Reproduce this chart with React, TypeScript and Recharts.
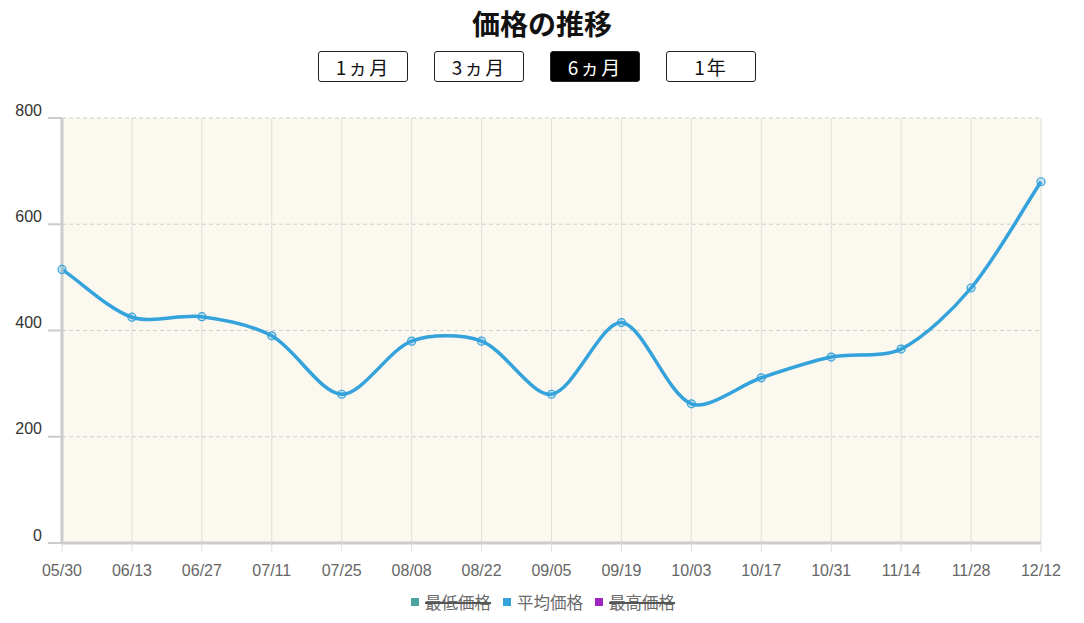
import React from 'react';
import { LineChart, Line, XAxis, YAxis, CartesianGrid, Legend } from 'recharts';

const dates = ['05/30', '06/13', '06/27', '07/11', '07/25', '08/08', '08/22', '09/05', '09/19', '10/03', '10/17', '10/31', '11/14', '11/28', '12/12'];
const avgPrices = [515, 425, 426, 390, 280, 380, 380, 280, 415, 262, 311, 350, 365, 480, 680];
const yTicks = [0, 200, 400, 600, 800];
const ranges = ['1ヵ月', '3ヵ月', '6ヵ月', '1年'];
const activeRange = '6ヵ月';
const seriesNames = ['最低価格', '平均価格', '最高価格'];
const seriesColors = ['#4aa39f', '#34a3db', '#9b27c0'];
const seriesHidden = [true, false, true];

const data = dates.map((date, i) => ({ date, avg: avgPrices[i] }));

const LINE_COLOR = '#34a3db';
const FONT = '"Liberation Sans", Arial, sans-serif';
const JP_FONT = '"Noto Sans CJK JP", sans-serif';

// chart.js style bezier spline (tension based)
const splineCurve = (tension: number) => (context: any) => {
  let pts: number[][] = [];
  return {
    areaStart() {},
    areaEnd() {},
    lineStart() {
      pts = [];
    },
    point(x: number, y: number) {
      pts.push([+x, +y]);
    },
    lineEnd() {
      const n = pts.length;
      if (!n) return;
      context.moveTo(pts[0][0], pts[0][1]);
      if (n === 1) return;
      const prevCp: number[][] = [];
      const nextCp: number[][] = [];
      for (let i = 0; i < n; i++) {
        const cur = pts[i];
        const prev = pts[i - 1] || cur;
        const next = pts[i + 1] || cur;
        const d01 = Math.hypot(cur[0] - prev[0], cur[1] - prev[1]);
        const d12 = Math.hypot(next[0] - cur[0], next[1] - cur[1]);
        let s01 = d01 / (d01 + d12);
        let s12 = d12 / (d01 + d12);
        if (isNaN(s01)) s01 = 0;
        if (isNaN(s12)) s12 = 0;
        const fa = tension * s01;
        const fb = tension * s12;
        prevCp.push([cur[0] - fa * (next[0] - prev[0]), cur[1] - fa * (next[1] - prev[1])]);
        nextCp.push([cur[0] + fb * (next[0] - prev[0]), cur[1] + fb * (next[1] - prev[1])]);
      }
      for (let i = 1; i < n; i++) {
        context.bezierCurveTo(nextCp[i - 1][0], nextCp[i - 1][1], prevCp[i][0], prevCp[i][1], pts[i][0], pts[i][1]);
      }
    },
  };
};

const YTick = (props: any) => {
  const { x, y, payload } = props;
  return (
    <text x={x - 4} y={y - 8} textAnchor="end" dominantBaseline="central" fill="#333" fontSize={16} fontFamily={FONT}>
      {payload.value}
    </text>
  );
};

const XTick = (props: any) => {
  const { x, y, payload } = props;
  return (
    <text x={x} y={y + 16} textAnchor="middle" dominantBaseline="central" fill="#666" fontSize={16} fontFamily={FONT}>
      {payload.value}
    </text>
  );
};

const LegendContent = () => (
  <div style={{ height: 50, display: 'flex', justifyContent: 'center', alignItems: 'flex-start', paddingTop: 19, paddingLeft: 2, boxSizing: 'border-box', fontFamily: JP_FONT, fontSize: 16.5, color: '#6a6a6a' }}>
    {seriesNames.map((name, i) => (
      <span key={name} style={{ display: 'flex', alignItems: 'center', margin: '0 6px' }}>
        <span style={{ width: 8, height: 8, background: seriesColors[i], marginRight: 6, display: 'inline-block' }} />
        <span style={{ position: 'relative', lineHeight: '20px' }}>
          {name}
          {seriesHidden[i] && (
            <span style={{ position: 'absolute', left: 0, right: 0, top: 10, height: 2, background: '#555' }} />
          )}
        </span>
      </span>
    ))}
  </div>
);

export default function App() {
  return (
    <div style={{ position: 'absolute', left: 0, top: 0, width: 1084, height: 623, background: '#fff' }}>
      <div style={{ position: 'absolute', top: 3, left: 0, width: 1084, textAlign: 'center', fontFamily: JP_FONT, fontWeight: 700, fontSize: 28, lineHeight: '40px', color: '#111' }}>
        価格の推移
      </div>
      <div style={{ position: 'absolute', top: 51, left: 318, display: 'flex', gap: 26 }}>
        {ranges.map((r) => {
          const active = r === activeRange;
          return (
            <div
              key={r}
              style={{
                width: 90,
                height: 31,
                boxSizing: 'border-box',
                border: '1px solid #222',
                borderRadius: 3,
                background: active ? '#000' : '#fff',
                color: active ? '#fff' : '#111',
                fontFamily: JP_FONT,
                fontSize: 19,
                letterSpacing: 2,
                display: 'flex',
                alignItems: 'center',
                justifyContent: 'center',
              }}
            >
              {r}
            </div>
          );
        })}
      </div>
      <div style={{ position: 'absolute', left: 0, top: 0 }}>
        <LineChart width={1084} height={623} data={data} margin={{ top: 118, right: 43, left: 0, bottom: 0 }}>
          <CartesianGrid horizontal={false} vertical stroke="#e2dfd8" fill="#fbf8f0" />
          <CartesianGrid vertical={false} horizontal stroke="#cfcfcf" strokeDasharray="4 3" />
          <XAxis
            dataKey="date"
            height={30}
            interval={0}
            tick={<XTick />}
            tickSize={9}
            tickLine={{ stroke: '#e2dfd8', strokeWidth: 1 }}
            axisLine={{ stroke: '#cccccc', strokeWidth: 3 }}
          />
          <YAxis
            width={62}
            domain={[0, 800]}
            ticks={yTicks}
            tick={<YTick />}
            tickSize={14}
            tickLine={{ stroke: '#cccccc', strokeWidth: 2 }}
            axisLine={{ stroke: '#cccccc', strokeWidth: 3 }}
          />
          <Legend verticalAlign="bottom" wrapperStyle={{ left: 0, width: 1084 }} content={<LegendContent />} />
          <Line
            dataKey="avg"
            name="平均価格"
            type={splineCurve(0.3) as any}
            stroke={LINE_COLOR}
            strokeWidth={3.5}
            dot={{ r: 4, stroke: LINE_COLOR, strokeWidth: 1.2, fill: 'rgba(52,163,219,0.25)' }}
            isAnimationActive={false}
          />
        </LineChart>
      </div>
    </div>
  );
}
